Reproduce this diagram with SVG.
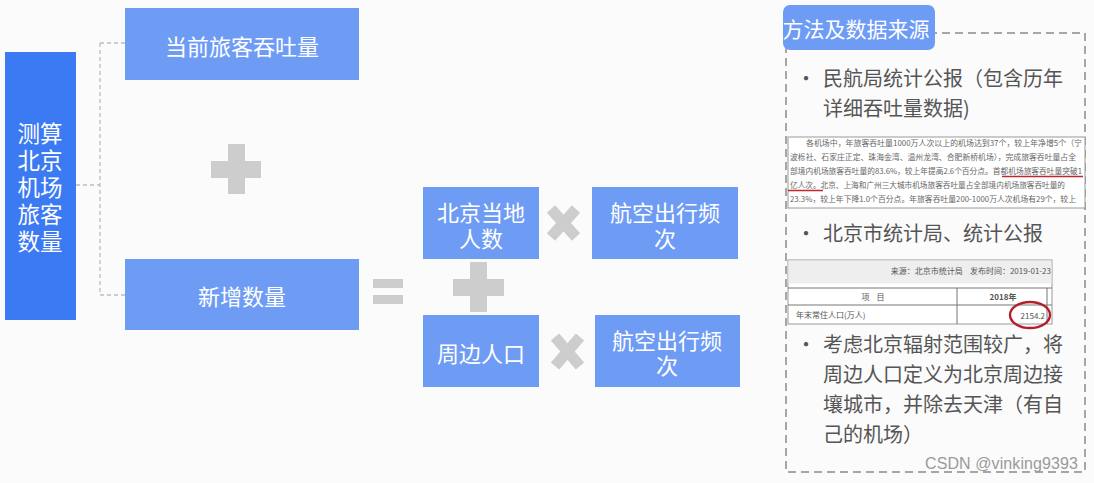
<svg xmlns="http://www.w3.org/2000/svg" width="1094" height="483" viewBox="0 0 1094 483">
<style>
.box{fill:#6e9cf5}
.main{fill:#3c7af3}
.wt{fill:#ffffff;font-family:"Noto Sans CJK SC","Noto Sans",sans-serif;text-anchor:middle;dominant-baseline:central}
.op{fill:#cdcdcd}
.conn{fill:none;stroke:#bdbdbd;stroke-width:1.3;stroke-dasharray:4 3}
.bt{fill:#555555;font-family:"Noto Sans CJK SC","Noto Sans",sans-serif;font-size:20px;dominant-baseline:central}
.doc{fill:#666666;font-family:"Noto Sans CJK SC","Noto Sans",sans-serif;font-size:8px}
.tb{fill:#555555;font-family:"Noto Sans CJK SC","Liberation Serif",serif;font-size:8px}
.grid{stroke:#777;stroke-width:1;fill:none}
</style>
<rect width="1094" height="483" fill="#fbfbfb"/>

<g id="connectors">
<path class="conn" d="M76,185 H100 M100,43 V295 M100,43 H125 M100,295 H125"/>
</g>

<g id="node-main">
<rect class="main" x="5" y="52" width="71" height="268"/>
<text class="wt" font-size="22.5"><tspan x="40" y="132">测算</tspan><tspan x="40" y="159">北京</tspan><tspan x="40" y="186">机场</tspan><tspan x="40" y="213">旅客</tspan><tspan x="40" y="240">数量</tspan></text>
</g>

<g id="node-current">
<rect class="box" x="125" y="8" width="234" height="72"/>
<text class="wt" x="242" y="45" font-size="22">当前旅客吞吐量</text>
</g>

<g id="node-new">
<rect class="box" x="125" y="259" width="234" height="71"/>
<text class="wt" x="242" y="295" font-size="22">新增数量</text>
</g>

<g id="op-plus1" class="op">
<rect x="211" y="161" width="50" height="17"/>
<rect x="228" y="144" width="17" height="50"/>
</g>

<g id="op-equals" class="op">
<rect x="373" y="279" width="30" height="9"/>
<rect x="373" y="295" width="30" height="9"/>
</g>

<g id="node-local">
<rect class="box" x="423" y="187" width="116" height="72"/>
<text class="wt" font-size="22"><tspan x="481" y="211">北京当地</tspan><tspan x="481" y="237">人数</tspan></text>
</g>

<g id="op-times1">
<path d="M551,209 L576,237 M576,209 L551,237" stroke="#cdcdcd" stroke-width="11" fill="none"/>
</g>

<g id="node-freq1">
<rect class="box" x="592" y="187" width="146" height="72"/>
<text class="wt" font-size="22"><tspan x="665" y="211">航空出行频</tspan><tspan x="665" y="237">次</tspan></text>
</g>

<g id="op-plus2" class="op">
<rect x="453" y="279" width="51" height="17"/>
<rect x="470" y="262" width="17" height="50"/>
</g>

<g id="node-surround">
<rect class="box" x="423" y="315" width="116" height="72"/>
<text class="wt" x="481" y="352" font-size="22">周边人口</text>
</g>

<g id="op-times2">
<path d="M555,337 L580,366 M580,337 L555,366" stroke="#cdcdcd" stroke-width="11" fill="none"/>
</g>

<g id="node-freq2">
<rect class="box" x="595" y="315" width="145" height="72"/>
<text class="wt" font-size="22"><tspan x="667" y="339">航空出行频</tspan><tspan x="667" y="364">次</tspan></text>
</g>

<g id="panel">
<rect x="786" y="33" width="299" height="439" fill="none" stroke="#8a8a8a" stroke-width="1.5" stroke-dasharray="8 5"/>
<rect x="783" y="5" width="152" height="45" rx="7" fill="#6e9cf5"/>
<text class="wt" x="856" y="28" font-size="21">方法及数据来源</text>

<text class="bt" x="796" y="77">•</text>
<text class="bt"><tspan x="823" y="77">民航局统计公报（包含历年</tspan><tspan x="823" y="107">详细吞吐量数据)</tspan></text>

<g id="doc1">
<rect x="788" y="137" width="297" height="71" fill="#ffffff" stroke="#9a9a9a" stroke-width="1"/>
<text class="doc" x="806" y="146" textLength="276" lengthAdjust="spacingAndGlyphs">各机场中，年旅客吞吐量1000万人次以上的机场达到37个，较上年净增5个（宁</text>
<text class="doc" x="790" y="160" textLength="286" lengthAdjust="spacingAndGlyphs">波栎社、石家庄正定、珠海金湾、温州龙湾、合肥新桥机场），完成旅客吞吐量占全</text>
<text class="doc" x="790" y="174" textLength="292" lengthAdjust="spacingAndGlyphs">部境内机场旅客吞吐量的83.6%，较上年提高2.6个百分点。首都机场旅客吞吐量突破1</text>
<text class="doc" x="790" y="188" textLength="275" lengthAdjust="spacingAndGlyphs">亿人次。北京、上海和广州三大城市机场旅客吞吐量占全部境内机场旅客吞吐量的</text>
<text class="doc" x="790" y="202" textLength="286" lengthAdjust="spacingAndGlyphs">23.3%，较上年下降1.0个百分点。年旅客吞吐量200-1000万人次机场有29个，较上</text>
<path d="M1002,176.5 H1083 M788,190.5 H823" stroke="#c0262c" stroke-width="1.6" fill="none"/>
</g>

<text class="bt" x="796" y="232">•</text>
<text class="bt" x="823" y="232">北京市统计局、统计公报</text>

<g id="doc2">
<rect x="788" y="260" width="264" height="64" fill="#ffffff" stroke="#9a9a9a" stroke-width="1"/>
<rect x="788.5" y="260.5" width="263" height="23" fill="#eeeeee"/>
<text class="tb" x="1051" y="274" text-anchor="end" xml:space="preserve">来源：北京市统计局    发布时间：2019-01-23</text>
<path class="grid" d="M788,288 H1052 M788,305 H1052 M957,288 V324 M1047,288 V324"/>
<text class="tb" x="873" y="300" text-anchor="middle" xml:space="preserve">项    目</text>
<text class="tb" x="1003" y="300" text-anchor="middle" font-weight="bold">2018年</text>
<text class="tb" x="796" y="318">年末常住人口(万人)</text>
<text class="tb" x="1045" y="319" text-anchor="end">2154.2</text>
<ellipse cx="1030" cy="315" rx="20" ry="13" fill="none" stroke="#b3202a" stroke-width="2.4"/>
</g>

<text class="bt" x="796" y="343">•</text>
<text class="bt"><tspan x="823" y="343">考虑北京辐射范围较广，将</tspan><tspan x="823" y="373">周边人口定义为北京周边接</tspan><tspan x="823" y="403">壤城市，并除去天津（有自</tspan><tspan x="823" y="433">己的机场）</tspan></text>
</g>

<text id="watermark" x="925" y="469" font-family="Liberation Sans, sans-serif" font-size="16" fill="#9a9a9a" textLength="153">CSDN @vinking9393</text>
</svg>
